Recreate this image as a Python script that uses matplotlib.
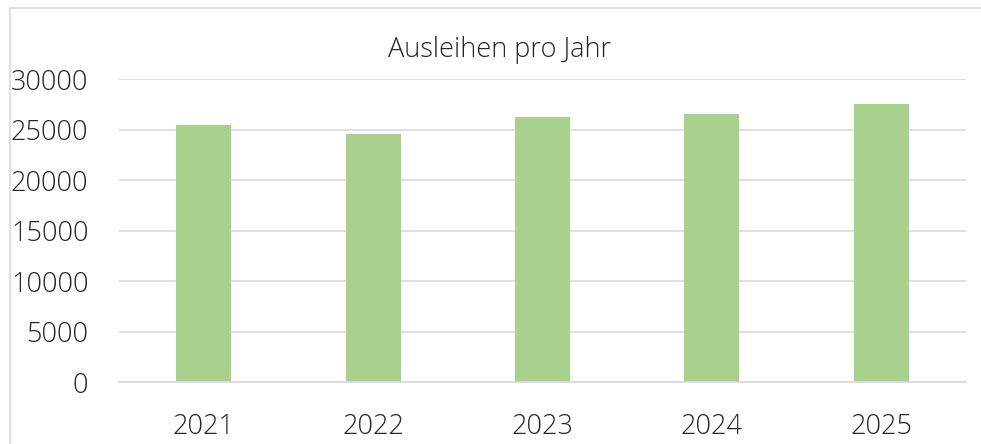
import numpy as np
import matplotlib
matplotlib.use("Agg")
import matplotlib.pyplot as plt
from matplotlib.patches import Rectangle

# Daten
jahre = ["2021", "2022", "2023", "2024", "2025"]
ausleihen = [25500, 24550, 26270, 26530, 27550]
yticks = [0, 5000, 10000, 15000, 20000, 25000, 30000]

plt.rcParams["font.family"] = ["Open Sans", "DejaVu Sans"]
TXT = "#262626"
GRID = "#d9d9d9"
GREEN = "#a9d18e"

W, H = 981, 444
fig = plt.figure(figsize=(W / 100, H / 100), dpi=100)
ax = fig.add_axes([119 / W, 1 - 382.3 / H, (966 - 119) / W, (382.3 - 79.3) / H])

x = np.arange(len(jahre))
ax.bar(x, ausleihen, width=0.325, color=GREEN, zorder=3)

ax.set_xlim(-0.5, len(jahre) - 0.5)
ax.set_ylim(0, 30000)
ax.set_yticks(yticks)
ax.set_yticklabels([str(v) for v in yticks])
ax.set_xticks(x)
ax.set_xticklabels(jahre)
ax.tick_params(axis="both", length=0, labelsize=19.5, colors=TXT)
ax.tick_params(axis="y", pad=22)
ax.tick_params(axis="x", pad=22)
for lab in ax.get_xticklabels() + ax.get_yticklabels():
    lab.set_fontweight("light")

ax.grid(axis="y", color=GRID, lw=1.2, zorder=0)
for s in ["top", "right", "left"]:
    ax.spines[s].set_visible(False)
ax.spines["bottom"].set_color(GRID)
ax.spines["bottom"].set_linewidth(1.2)
ax.spines["bottom"].set_zorder(4)

fig.text(500 / W, 1 - 50 / H, "Ausleihen pro Jahr", ha="center", va="center",
         fontsize=19.5, color=TXT, fontweight="light")

# Diagrammrahmen (rechts/unten abgeschnitten)
fig.patches.append(Rectangle((9.5 / W, -0.1), 1.2, 1 - 8.5 / H + 0.1,
                             transform=fig.transFigure, fill=False,
                             edgecolor=GRID, lw=1.2))

fig.savefig("out.png", dpi=100)
